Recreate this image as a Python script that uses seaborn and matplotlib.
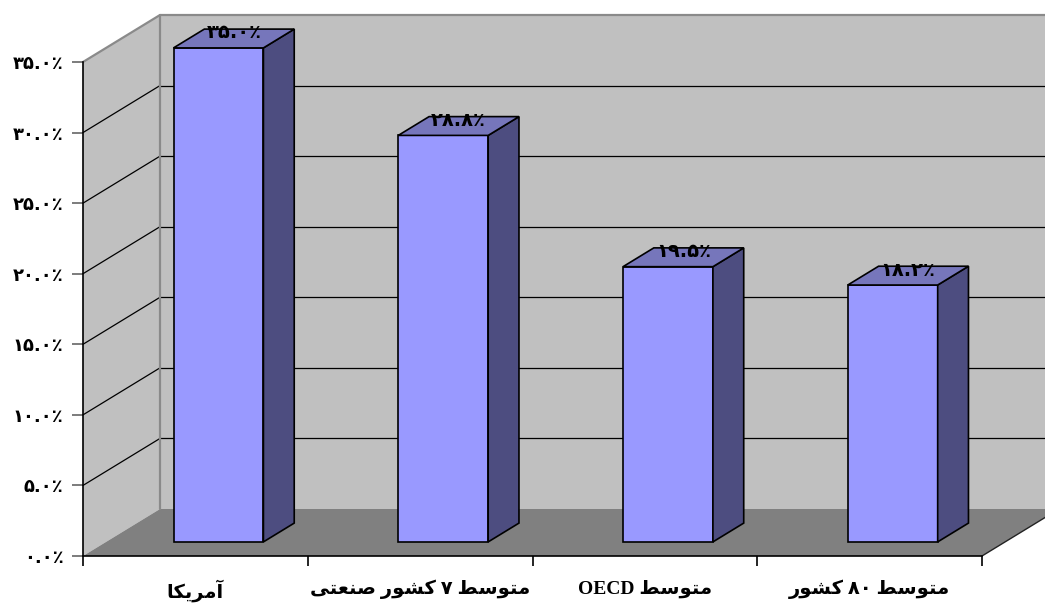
import matplotlib
matplotlib.use("Agg")
import matplotlib.pyplot as plt
import pandas as pd
import seaborn as sns
from matplotlib.patches import Polygon

# ---- data -------------------------------------------------------------
categories = ["آمریکا", "متوسط ۷ کشور صنعتی", "متوسط OECD", "متوسط ۸۰ کشور"]
shares = [35.0, 28.8, 19.5, 18.2]
y_ticks = [0, 5, 10, 15, 20, 25, 30, 35]

# ---- Persian text helpers (matplotlib has no shaping / bidi) ----------
FORMS = {  # isolated, final, initial, medial
    "\u0622": ("\uFE81", "\uFE82", None, None),
    "\u0627": ("\uFE8D", "\uFE8E", None, None),
    "\u0631": ("\uFEAD", "\uFEAE", None, None),
    "\u0648": ("\uFEED", "\uFEEE", None, None),
    "\u0645": ("\uFEE1", "\uFEE2", "\uFEE3", "\uFEE4"),
    "\u062A": ("\uFE95", "\uFE96", "\uFE97", "\uFE98"),
    "\u0633": ("\uFEB1", "\uFEB2", "\uFEB3", "\uFEB4"),
    "\u0637": ("\uFEC1", "\uFEC2", "\uFEC3", "\uFEC4"),
    "\u0634": ("\uFEB5", "\uFEB6", "\uFEB7", "\uFEB8"),
    "\u0635": ("\uFEB9", "\uFEBA", "\uFEBB", "\uFEBC"),
    "\u0646": ("\uFEE5", "\uFEE6", "\uFEE7", "\uFEE8"),
    "\u0639": ("\uFEC9", "\uFECA", "\uFECB", "\uFECC"),
    "\u06A9": ("\uFB8E", "\uFB8F", "\uFB90", "\uFB91"),
    "\u06CC": ("\uFBFC", "\uFBFD", "\uFBFE", "\uFBFF"),
}
PERSIAN_DIGITS = "۰۱۲۳۴۵۶۷۸۹"


def to_persian_digits(s):
    return "".join(PERSIAN_DIGITS[int(c)] if c.isdigit() else c for c in s)


def shape(text):
    out = []
    for i, ch in enumerate(text):
        if ch not in FORMS:
            out.append(ch)
            continue
        prev = text[i - 1] if i > 0 else ""
        nxt = text[i + 1] if i + 1 < len(text) else ""
        join_prev = prev in FORMS and FORMS[prev][2] is not None
        join_next = FORMS[ch][2] is not None and nxt in FORMS
        iso, fin, ini, med = FORMS[ch]
        if join_prev and join_next:
            out.append(med)
        elif join_prev:
            out.append(fin)
        elif join_next:
            out.append(ini)
        else:
            out.append(iso)
    return "".join(out)


def is_ltr(ch):
    return ch.isascii() and ch.isalnum() or ch in PERSIAN_DIGITS


def visual(text):
    """Shape Persian text and lay it out right-to-left."""
    shaped = shape(text)
    runs, cur, cur_ltr = [], "", None
    for ch in shaped:
        l = is_ltr(ch)
        if cur and l != cur_ltr:
            runs.append((cur, cur_ltr))
            cur = ""
        cur += ch
        cur_ltr = l
    if cur:
        runs.append((cur, cur_ltr))
    return "".join(r if l else r[::-1] for r, l in reversed(runs))


def pct_label(v):
    return to_persian_digits(f"{v:.1f}") + "٪"


# ---- figure -----------------------------------------------------------
sns.set_theme(style="white")
plt.rcParams["font.family"] = ["DejaVu Sans"]
plt.rcParams["text.color"] = "black"
plt.rcParams["xtick.labelcolor"] = "black"
plt.rcParams["ytick.labelcolor"] = "black"

W, H = 1045, 607
fig = plt.figure(figsize=(W / 100, H / 100), dpi=100)
left_px, right_px, top_px, base_px = 83, 982, 62, 556
ax = fig.add_axes([left_px / W, (H - base_px) / H,
                   (right_px - left_px) / W, (base_px - top_px) / H])
ax.patch.set_visible(False)

n = len(categories)
XMIN, XMAX, YMAX = -0.5, n - 0.5, 35
px_x = (right_px - left_px) / (XMAX - XMIN)
px_y = (base_px - top_px) / YMAX
DX, DY = 77 / px_x, 47 / px_y          # full depth of the box

df = pd.DataFrame({"cat": [visual(c) for c in categories], "share": shares})
sns.barplot(data=df, x="cat", y="share", width=0.4, color="#9999ff",
            saturation=1, edgecolor="black", linewidth=1.2, ax=ax,
            zorder=5, errorbar=None)
bars = list(ax.patches)
ax.set_xlim(XMIN, XMAX)
ax.set_ylim(0, YMAX)

wall = "#c0c0c0"
edge = "#8a8a8a"
# back wall, left wall, floor
ax.add_patch(Polygon([(XMIN + DX, DY), (XMAX + DX, DY), (XMAX + DX, YMAX + DY),
                      (XMIN + DX, YMAX + DY)], closed=True, facecolor=wall,
                     edgecolor="none", zorder=0, clip_on=False))
ax.add_patch(Polygon([(XMIN, 0), (XMIN + DX, DY), (XMIN + DX, YMAX + DY),
                      (XMIN, YMAX)], closed=True, facecolor=wall,
                     edgecolor="none", zorder=0, clip_on=False))
ax.add_patch(Polygon([(XMIN, 0), (XMAX, 0), (XMAX + DX, DY), (XMIN + DX, DY)],
                     closed=True, facecolor="#808080", edgecolor="none",
                     zorder=1, clip_on=False))
ax.plot([XMAX, XMAX + DX], [0, DY], color="#222222", lw=1.0, zorder=1,
        clip_on=False)

# gridlines on both walls
for t in y_ticks[1:-1]:
    ax.plot([XMIN, XMIN + DX], [t, t + DY], color="black", lw=0.9, zorder=2,
            clip_on=False)
    ax.plot([XMIN + DX, XMAX + DX], [t + DY, t + DY], color="black", lw=0.9,
            zorder=2, clip_on=False)
# wall edges
ax.plot([XMIN, XMIN + DX, XMAX + DX], [YMAX, YMAX + DY, YMAX + DY],
        color=edge, lw=1.6, zorder=2, clip_on=False)
ax.plot([XMIN + DX, XMIN + DX], [DY, YMAX + DY], color=edge, lw=1.6,
        zorder=2, clip_on=False)

# bars: push front face to mid-depth, add top and side faces
fx, fy = 0.3 * DX, 0.3 * DY
bdx, bdy = 0.4 * DX, 0.4 * DY
for p, v in zip(bars, shares):
    p.set_x(p.get_x() + fx)
    p.set_y(fy)
    p.set_clip_on(False)
    xl, w, b = p.get_x(), p.get_width(), fy
    top = b + v
    ax.add_patch(Polygon([(xl + w, b), (xl + w + bdx, b + bdy),
                          (xl + w + bdx, top + bdy), (xl + w, top)],
                         closed=True, facecolor="#4d4d80", edgecolor="black",
                         lw=1.2, zorder=5, clip_on=False))
    ax.add_patch(Polygon([(xl, top), (xl + w, top), (xl + w + bdx, top + bdy),
                          (xl + bdx, top + bdy)], closed=True,
                         facecolor="#7676bb", edgecolor="black", lw=1.2,
                         zorder=5, clip_on=False))
    ax.annotate(pct_label(v), (xl + w / 2 + bdx / 2, top + bdy / 2),
                xytext=(0, 4), textcoords="offset points", ha="center",
                va="center", fontsize=14, fontweight="bold", zorder=8,
                color="black", annotation_clip=False)

# axes, ticks and labels
for s in ("top", "right"):
    ax.spines[s].set_visible(False)
for s in ("left", "bottom"):
    ax.spines[s].set_color("black")
    ax.spines[s].set_linewidth(1.2)
    ax.spines[s].set_zorder(4)

ax.set_yticks(y_ticks, [pct_label(t) for t in y_ticks])
ax.tick_params(axis="y", length=8, width=1.2, color="#666666", pad=6,
               labelsize=13, left=True, labelcolor="black")
for lbl in ax.get_yticklabels():
    lbl.set_fontweight("bold")

ax.set_xticks(range(n), df["cat"])
ax.set_xticks([i - 0.5 for i in range(n + 1)], minor=True)
ax.tick_params(axis="x", which="major", length=0, pad=17, labelsize=14,
               labelcolor="black")
ax.tick_params(axis="x", which="minor", length=7, width=1.2, color="black",
               bottom=True)
for lbl in ax.get_xticklabels():
    lbl.set_fontweight("bold")
    lbl.set_family(["Liberation Serif", "DejaVu Sans"])
ax.set_xlabel("")
ax.set_ylabel("")

fig.savefig("out.png", dpi=100)
